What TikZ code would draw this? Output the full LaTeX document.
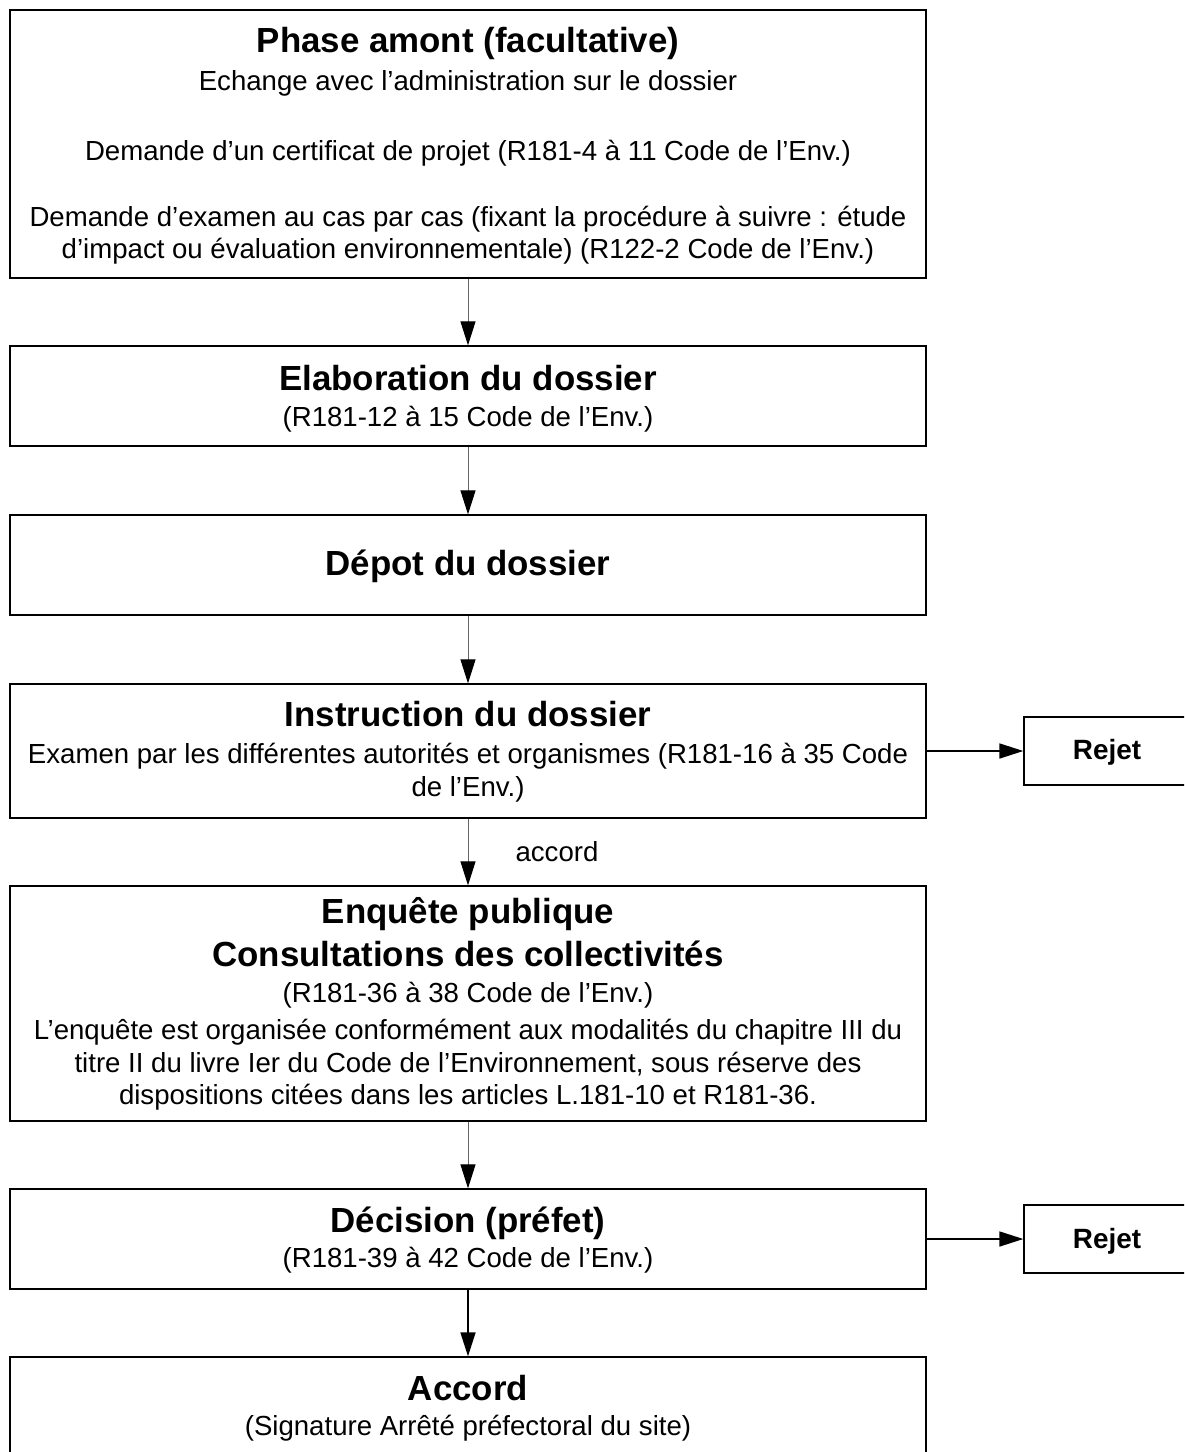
\documentclass[tikz,border=0pt]{standalone}
\usepackage{fontspec}
\setmainfont{Liberation Sans}
\usetikzlibrary{arrows.meta}
\begin{document}
\begin{tikzpicture}[x=1bp,y=-1bp,
 box/.style={draw=black, line width=1.3bp, minimum width=916bp, inner sep=0pt},
 rbox/.style={draw=black, line width=1.3bp, minimum width=170bp, minimum height=68bp, inner sep=0pt},
 ttl/.style={font=\bfseries\fontsize{35}{40}\selectfont, anchor=mid, inner sep=0pt},
 txt/.style={font=\fontsize{27.7}{32}\selectfont, anchor=mid, inner sep=0pt},
 rtxt/.style={font=\bfseries\fontsize{28}{32}\selectfont, anchor=mid, inner sep=0pt},
 flow/.style={draw=black!60, line width=1bp, -{Triangle[length=24bp,width=15bp,color=black]}},
 sflow/.style={draw=black, line width=1.5bp, -{Triangle[length=24bp,width=15bp,color=black]}},
]
\path[use as bounding box] (0,0) rectangle (1184,1452);
\clip (0,0) rectangle (1184,1452);
% boxes
\node[box, minimum height=268bp] (b1) at (468,144) {};
\node[box, minimum height=100bp] (b2) at (468,396) {};
\node[box, minimum height=100bp] (b3) at (468,565) {};
\node[box, minimum height=134bp] (b4) at (468,751) {};
\node[box, minimum height=235bp] (b5) at (468,1003.5) {};
\node[box, minimum height=100bp] (b6) at (468,1239) {};
\node[box, minimum height=105bp] (b7) at (468,1409.5) {};
\node[rbox] (r1) at (1109,751) {};
\node[rbox] (r2) at (1109,1239) {};
% texts
\node[ttl] (t1a) at (468,50) {Phase amont (facultative)};
\node[txt] (t1b) at (468,88) {Echange avec l’administration sur le dossier};
\node[txt] (t1c) at (468,158) {Demande d’un certificat de projet (R181-4 à 11 Code de l’Env.)};
\node[txt] (t1d) at (468,224) {Demande d’examen au cas par cas (fixant la procédure à suivre : étude};
\node[txt] (t1e) at (468,256) {d’impact ou évaluation environnementale) (R122-2 Code de l’Env.)};
\node[ttl] (t2a) at (468,388) {Elaboration du dossier};
\node[txt] (t2b) at (468,424) {(R181-12 à 15 Code de l’Env.)};
\node[ttl] (t3a) at (468,573) {Dépot du dossier};
\node[ttl] (t4a) at (468,724) {Instruction du dossier};
\node[txt] (t4b) at (468,761) {Examen par les différentes autorités et organismes (R181-16 à 35 Code};
\node[txt] (t4c) at (468,794) {de l’Env.)};
\node[ttl] (t5a) at (468,921) {Enquête publique};
\node[ttl] (t5b) at (468,964) {Consultations des collectivités};
\node[txt] (t5c) at (468,1000) {(R181-36 à 38 Code de l’Env.)};
\node[txt] (t5d) at (468,1037) {L’enquête est organisée conformément aux modalités du chapitre III du};
\node[txt] (t5e) at (468,1070) {titre II du livre Ier du Code de l’Environnement, sous réserve des};
\node[txt] (t5f) at (468,1102) {dispositions citées dans les articles L.181-10 et R181-36.};
\node[ttl] (t6a) at (468,1230) {Décision (préfet)};
\node[txt] (t6b) at (468,1265) {(R181-39 à 42 Code de l’Env.)};
\node[ttl] (t7a) at (468,1398) {Accord};
\node[txt] (t7b) at (468,1433) {(Signature Arrêté préfectoral du site)};
\node[rtxt] (tr1) at (1107,757) {Rejet};
\node[rtxt] (tr2) at (1107,1246) {Rejet};
\node[txt] (lab) at (557,859) {accord};
% connectors
\draw[flow] (b1.south) -- (b2.north);
\draw[flow] (b2.south) -- (b3.north);
\draw[flow] (b3.south) -- (b4.north);
\draw[flow] (b4.south) -- (b5.north);
\draw[flow] (b5.south) -- (b6.north);
\draw[sflow] (b6.south) -- (b7.north);
\draw[sflow] (b4.east) -- (r1.west);
\draw[sflow] (b6.east) -- (r2.west);
\end{tikzpicture}
\end{document}
